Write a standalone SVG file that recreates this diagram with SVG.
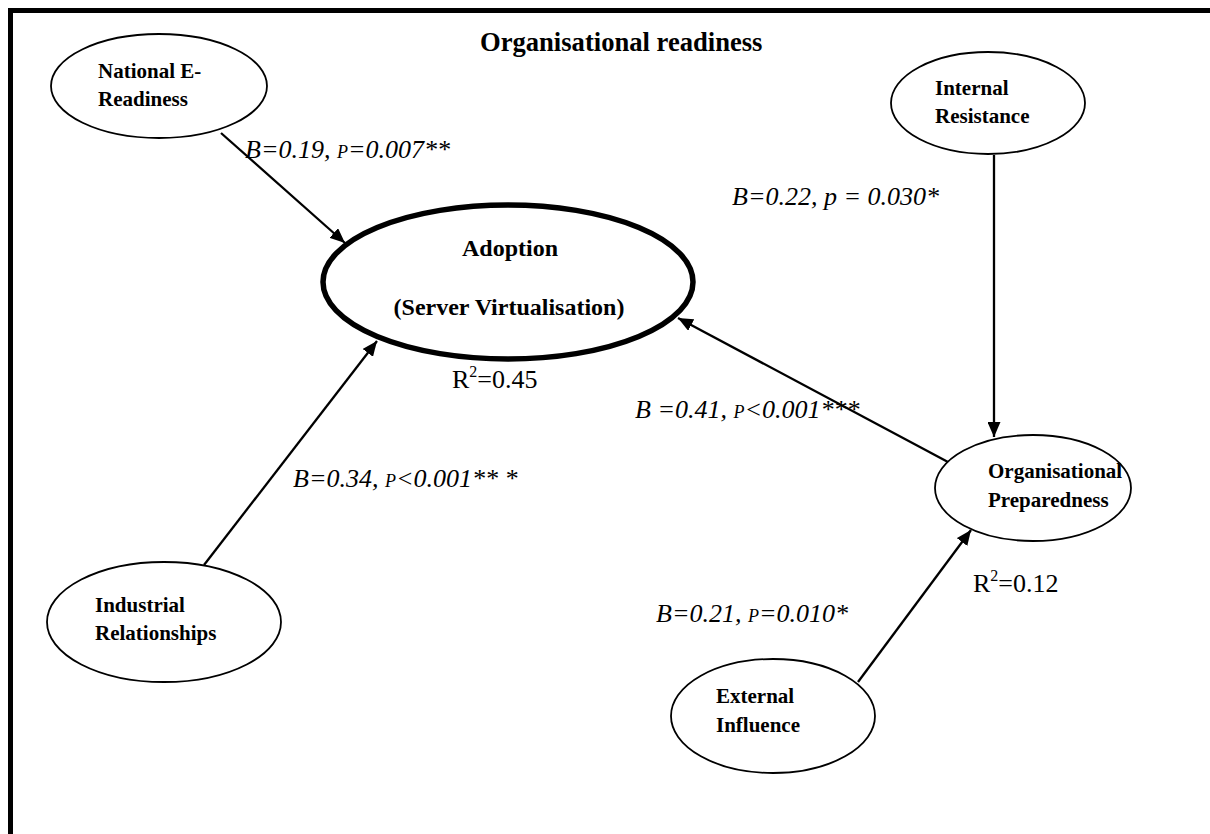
<svg xmlns="http://www.w3.org/2000/svg" width="1210" height="834" viewBox="0 0 1210 834">
<style>
.node{fill:#fff;stroke:#000;stroke-width:1.8}
.main{fill:#fff;stroke:#000;stroke-width:5.5}
.nl{font-family:"Liberation Serif",serif;font-weight:bold;font-size:21px;fill:#000}
.al{font-family:"Liberation Serif",serif;font-weight:bold;font-size:24px;fill:#000}
.lbl{font-family:"Liberation Serif",serif;font-style:italic;font-size:26px;fill:#000}
.sc{font-size:18px}
.r2{font-family:"Liberation Serif",serif;font-size:26px;fill:#000}
.title{font-family:"Liberation Serif",serif;font-weight:bold;font-size:26.6px;fill:#000}
.conn line{stroke:#000;stroke-width:2.3;marker-end:url(#arr)}
</style>
<defs>
<marker id="arr" markerWidth="15" markerHeight="13" refX="15" refY="6.5" orient="auto" markerUnits="userSpaceOnUse">
<path d="M0,0 L15,6.5 L0,13 z" fill="#000"/>
</marker>
</defs>
<rect width="1210" height="834" fill="#fff"/>
<g id="frame">
<rect x="8" y="8" width="1202" height="5" fill="#000"/>
<rect x="8" y="8" width="5" height="826" fill="#000"/>
</g>
<text class="title" x="480" y="51">Organisational readiness</text>
<g class="conn" id="connectors">
<line x1="221" y1="133" x2="345" y2="243"/>
<line x1="994" y1="155" x2="994" y2="437"/>
<line x1="948" y1="462" x2="678" y2="318"/>
<line x1="204" y1="565" x2="377" y2="341"/>
<line x1="858" y1="682" x2="971" y2="530"/>
</g>
<g id="national">
<ellipse class="node" cx="159" cy="86" rx="108" ry="52"/>
<text class="nl" x="98" y="78">National E-</text>
<text class="nl" x="98" y="106">Readiness</text>
</g>
<g id="internal">
<ellipse class="node" cx="988" cy="103" rx="97" ry="51"/>
<text class="nl" x="935" y="95">Internal</text>
<text class="nl" x="935" y="123">Resistance</text>
</g>
<g id="adoption">
<ellipse class="main" cx="508" cy="282" rx="185" ry="77"/>
<text class="al" x="510" y="256" text-anchor="middle">Adoption</text>
<text class="al" x="509" y="315" text-anchor="middle">(Server Virtualisation)</text>
</g>
<g id="orgprep">
<ellipse class="node" cx="1033" cy="488" rx="98" ry="53"/>
<text class="nl" x="988" y="478">Organisational</text>
<text class="nl" x="988" y="507">Preparedness</text>
</g>
<g id="industrial">
<ellipse class="node" cx="164" cy="622" rx="117" ry="60"/>
<text class="nl" x="95" y="612">Industrial</text>
<text class="nl" x="95" y="640">Relationships</text>
</g>
<g id="external">
<ellipse class="node" cx="773" cy="716" rx="102" ry="57"/>
<text class="nl" x="716" y="703">External</text>
<text class="nl" x="716" y="732">Influence</text>
</g>
<g id="labels">
<text class="lbl" x="245" y="158">B=0.19, <tspan class="sc">P</tspan>=0.007**</text>
<text class="lbl" x="732" y="205">B=0.22, p = 0.030*</text>
<text class="lbl" x="635" y="418">B =0.41, <tspan class="sc">P</tspan>&lt;0.001***</text>
<text class="lbl" x="293" y="487">B=0.34, <tspan class="sc">P</tspan>&lt;0.001** *</text>
<text class="lbl" x="656" y="622">B=0.21, <tspan class="sc">P</tspan>=0.010*</text>
<text class="r2" x="452" y="388">R<tspan font-size="16" dy="-11">2</tspan><tspan dy="11">=0.45</tspan></text>
<text class="r2" x="973" y="592">R<tspan font-size="16" dy="-11">2</tspan><tspan dy="11">=0.12</tspan></text>
</g>
</svg>
